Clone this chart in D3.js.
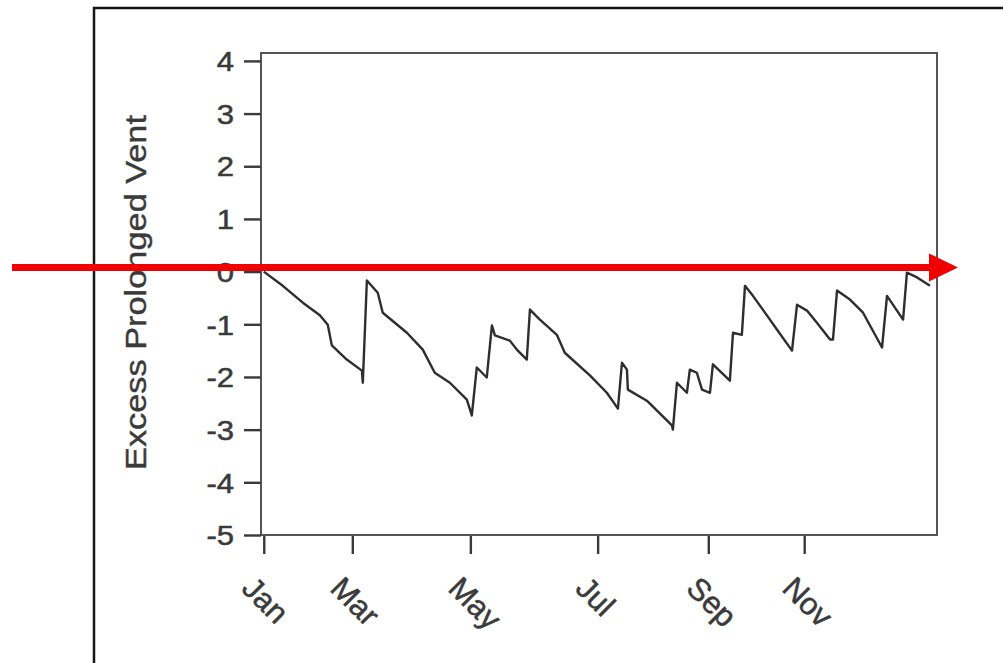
<!DOCTYPE html>
<html><head><meta charset="utf-8">
<script src="https://cdn.jsdelivr.net/npm/d3@7"></script>
<style>html,body{margin:0;padding:0;background:#fff;}svg{display:block;}</style>
</head><body>
<svg id="c" width="1003" height="663"></svg>
<script>
// ---- data ----
const dayIndex = [0,10.3,21.2,30.4,34.7,36.9,45.0,53.2,53.7,55.9,61.8,64.5,77.6,86.2,92.7,100.9,110.1,112.8,115.5,120.9,123.7,125.3,133.4,137.2,142.6,144.3,149.7,158.9,163.2,176.8,186.0,192.0,194.2,196.9,197.4,207.7,221.3,221.8,224.0,229.4,231.0,234.8,237.6,241.9,243.5,252.7,254.4,259.2,260.9,265.2,272.8,278.2,286.4,289.1,294.5,299.9,307.0,308.6,310.8,317.8,324.9,335.2,337.9,346.6,348.7,354.2,361.2];
const excessVent = [0,-0.27,-0.59,-0.83,-1.01,-1.40,-1.67,-1.88,-2.11,-0.17,-0.40,-0.78,-1.16,-1.48,-1.92,-2.11,-2.43,-2.73,-1.82,-2.01,-1.02,-1.21,-1.31,-1.48,-1.67,-0.72,-0.91,-1.20,-1.54,-1.97,-2.30,-2.60,-1.73,-1.86,-2.24,-2.45,-2.92,-3.00,-2.11,-2.30,-1.86,-1.92,-2.24,-2.30,-1.76,-2.07,-1.16,-1.20,-0.27,-0.46,-0.83,-1.10,-1.50,-0.63,-0.74,-0.97,-1.29,-1.29,-0.36,-0.53,-0.78,-1.44,-0.46,-0.91,-0.02,-0.11,-0.27];
const monthTickPos = [0,48,112,181,241,293];
const monthLabels = ["Jan","Mar","May","Jul","Sep","Nov"];
const yTicks = [4,3,2,1,0,-1,-2,-3,-4,-5];
const yTitle = "Excess Prolonged Vent";

// ---- layout ----
const svg = d3.select("#c");
const L = 261, R = 937, T = 53, B = 535;
const x = d3.scaleLinear().domain([-1.5, 365]).range([L, R]);
const y = d3.scaleLinear().domain([-5, 4.15]).range([B, T]);
const ink = "#3a3a3a";
const font = "Liberation Sans, Arial, sans-serif";

// outer frame
svg.append("path").attr("d", "M94,663 L94,8 L1003,8")
  .attr("fill","none").attr("stroke","#151515").attr("stroke-width",2.5);

// plot frame
svg.append("rect").attr("x",L).attr("y",T).attr("width",R-L).attr("height",B-T)
  .attr("fill","none").attr("stroke","#555").attr("stroke-width",2);

// y axis
const yAxis = d3.axisLeft(y).tickValues(yTicks).tickSize(17).tickPadding(10).tickFormat(d => String(d));
const gy = svg.append("g").attr("transform",`translate(${L},0)`).call(yAxis);
gy.select(".domain").remove();
gy.selectAll(".tick line").attr("stroke",ink).attr("stroke-width",2.4);
gy.selectAll(".tick text").attr("fill",ink).attr("stroke",ink).attr("stroke-width",0.5)
  .attr("font-family",font).attr("font-size",27).attr("dy","0.36em")
  .each(function(){ const t=d3.select(this); const xx=+t.attr("x"); t.attr("x",null)
      .attr("transform",`translate(${xx},0) scale(1.15,1)`);});

// x axis
const xAxis = d3.axisBottom(x).tickValues(monthTickPos).tickSize(18).tickFormat((d,i)=>monthLabels[i]);
const gx = svg.append("g").attr("transform",`translate(0,${B+1})`).call(xAxis);
gx.select(".domain").remove();
gx.selectAll(".tick line").attr("stroke",ink).attr("stroke-width",2.4);
gx.selectAll(".tick text").attr("fill",ink).attr("stroke",ink).attr("stroke-width",0.5)
  .attr("font-family",font).attr("font-size",31).attr("text-anchor","start").attr("y",null).attr("dy",null)
  .attr("transform","translate(-24,54) rotate(45)");

// y title
svg.append("text").attr("transform",`translate(146,${(115+470)/2}) rotate(-90)`)
  .attr("text-anchor","middle").attr("fill",ink).attr("stroke",ink).attr("stroke-width",0.4)
  .attr("font-family",font).attr("font-size",30)
  .attr("textLength",355).attr("lengthAdjust","spacingAndGlyphs").text(yTitle);

// data line
const pts = dayIndex.map((d,i)=>[d, excessVent[i]]);
svg.append("path").datum(pts)
  .attr("d", d3.line().x(d=>x(d[0])).y(d=>y(d[1])))
  .attr("fill","none").attr("stroke","#2e2e2e").attr("stroke-width",2.4).attr("stroke-linejoin","round");

// red arrow annotation
const ay = y(0.08);
svg.append("line").attr("x1",12).attr("x2",932).attr("y1",ay).attr("y2",ay)
  .attr("stroke","#f00000").attr("stroke-width",7);
svg.append("path").attr("d",`M929,${ay-14} L958,${ay} L929,${ay+14} Z`).attr("fill","#f00000");
</script>
</body></html>
